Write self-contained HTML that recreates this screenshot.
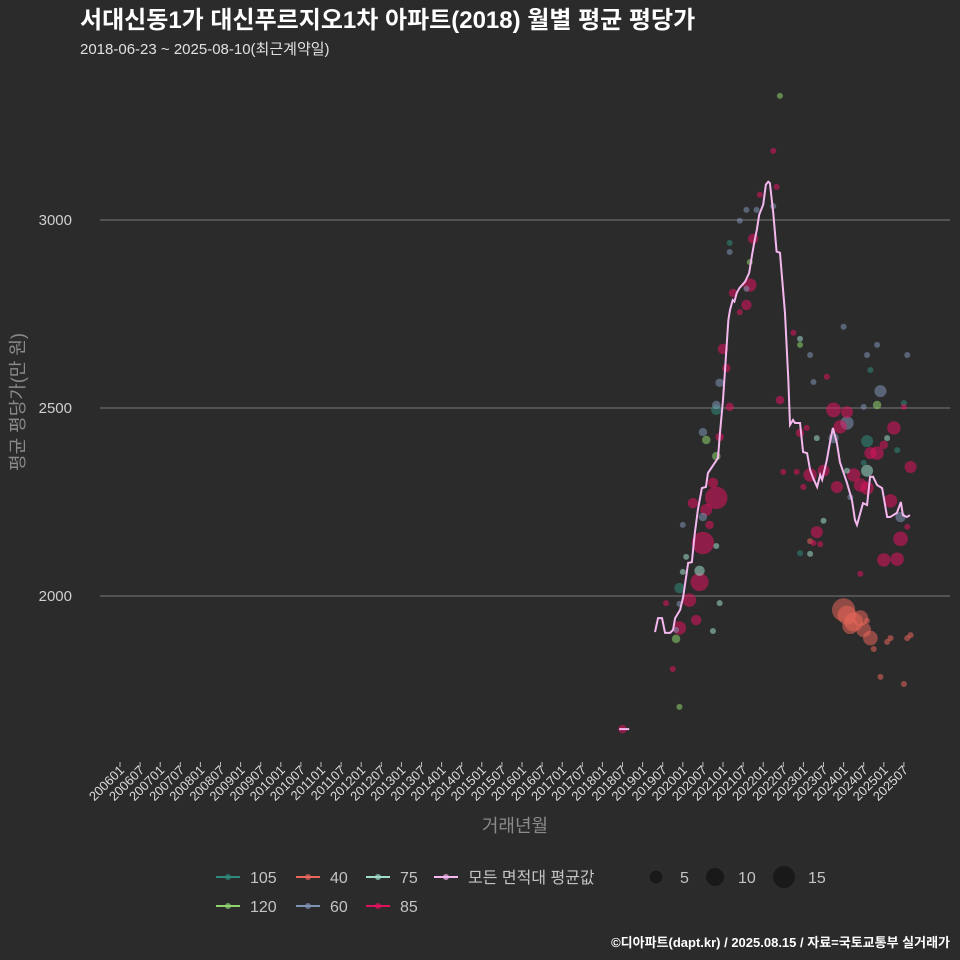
<!DOCTYPE html>
<html><head><meta charset="utf-8">
<style>
html,body{margin:0;padding:0;background:#2b2b2c;}
svg{display:block;font-family:"Liberation Sans","Noto Sans CJK KR",sans-serif;}
</style></head>
<body>
<svg id="chart" width="960" height="960" viewBox="0 0 960 960">
<rect x="0" y="0" width="960" height="960" fill="#2b2b2c"/>
<text x="80" y="28" font-size="24" font-weight="bold" fill="#ffffff">서대신동1가 대신푸르지오1차 아파트(2018) 월별 평균 평당가</text>
<text x="80" y="54" font-size="15" fill="#e0e0e0">2018-06-23 ~ 2025-08-10(최근계약일)</text>
<g id="grid"></g>
<g id="xaxis"></g>
<g id="bubbles"></g>
<g id="lines"></g>
<text transform="translate(24,402) rotate(-90)" text-anchor="middle" font-size="18" fill="#8a8a8a">평균 평당가(만 원)</text>
<text x="515" y="832" text-anchor="middle" font-size="18" fill="#8a8a8a">거래년월</text>
<g id="legend"></g>
<text x="950" y="947" text-anchor="end" font-size="13" font-weight="bold" fill="#ffffff">©디아파트(dapt.kr) / 2025.08.15 / 자료=국토교통부 실거래가</text>
</svg>
<script>
// month offsets are months since 2006-01
const yTicks = [2000, 2500, 3000];
const lineMonths = [159.7,160.6,161.8,162.7,164.2,165.1,165.7,167.2,168.1,169.6,170.7,171.6,172.5,173.7,174.9,175.5,176.7,178.5,179.1,180.0,180.6,181.6,182.1,182.9,183.4,184.1,184.9,186.6,187.8,188.6,189.3,190.1,190.8,192.0,192.8,193.5,194.0,195.0,196.0,197.0,198.5,199.5,200.0,200.9,201.5,203.0,203.9,205.1,206.0,206.9,208.1,209.0,209.6,211.0,211.9,212.8,214.0,214.9,217.0,218.5,219.4,220.0,221.8,223.0,223.9,224.8,226.0,227.5,229.0,229.9,231.9,233.1,233.7,234.9,235.8];
const lineValues = [1904,1941,1941,1902,1902,1910,1941,1963,1997,2088,2090,2168,2229,2287,2290,2327,2343,2367,2434,2521,2601,2734,2761,2787,2783,2806,2819,2836,2859,2903,2939,2974,3014,3041,3094,3102,3098,3019,2916,2913,2753,2575,2455,2468,2460,2460,2383,2380,2335,2314,2290,2322,2309,2362,2407,2447,2407,2356,2301,2255,2202,2189,2247,2242,2317,2317,2295,2287,2210,2210,2221,2250,2215,2210,2215];
const isolatedMonths = [149, 152];
const isolatedValues = [1646, 1646];
const bubbleMonths = [197,195,196,191,187,190,185,195,189,182,182,188,188,183,187,187,185,180,181,179,178,178,174,175,178,179,182,197,177,178,171,175,174,176,168,174,178,169,173,173,168,167,170,163,167,179,172,167,166,166,177,165,167,150,
201,203,203,206,216,226,223,235,224,211,207,227,213,217,222,226,234,234,217,215,203,205,208,213,231,229,223,226,224,228,232,222,223,219,217,206,210,202,198,204,214,223,221,236,230,218,233,235,210,208,206,207,209,203,206,233,228,232,221,
216,217,219,218,221,222,223,224,225,229,230,235,236,227,234];
const bubbleValues = [3330,3184,3088,3067,3027,3027,2998,3037,2950,2939,2915,2888,2827,2806,2817,2774,2755,2657,2606,2567,2508,2495,2436,2415,2372,2423,2503,2521,2301,2261,2247,2229,2210,2189,2189,2141,2133,2104,2067,2037,2064,2021,1989,1981,1979,1981,1936,1915,1910,1886,1907,1806,1705,1646,
2700,2684,2668,2641,2716,2668,2641,2641,2601,2583,2569,2545,2495,2489,2503,2508,2513,2503,2460,2450,2434,2447,2420,2420,2447,2420,2412,2380,2380,2402,2388,2354,2333,2322,2333,2322,2333,2330,2330,2290,2290,2287,2295,2343,2253,2263,2210,2184,2200,2170,2146,2141,2138,2114,2112,2152,2096,2098,2059,
1963,1949,1931,1920,1941,1910,1934,1888,1859,1878,1888,1888,1896,1785,1766];
const bubbleTypes = ["120","85","85","85","60","60","60","60","85","105","60","120","85","85","60","85","85","85","85","60","60","105","60","120","120","85","85","85","85","85","85","85","60","85","60","85","75","75","75","85","75","105","85","85","60","75","85","85","60","120","75","85","120","85",
"85","75","120","60","60","60","60","60","105","85","60","60","85","85","60","120","105","85","60","85","85","85","75","60","85","75","105","85","85","85","105","105","75","85","75","85","85","85","85","85","85","85","85","85","85","60","60","85","75","85","40","85","85","105","75","85","85","85","85",
"40","40","40","40","40","40","40","40","40","40","40","40","40","40","40"];
const bubbleCounts = [1,1,1,1,1,1,1,1,3,1,1,1,5,2,1,3,1,3,2,2,2,3,2,2,2,2,2,2,3,14,3,4,2,2,1,14,1,1,3,9,1,3,5,1,1,1,3,5,1,2,1,1,1,2,
1,1,1,1,1,1,1,1,1,1,1,4,6,4,1,2,1,1,5,5,2,1,1,3,5,1,4,5,4,2,1,1,4,5,1,5,4,1,1,1,4,5,5,4,5,1,3,1,1,4,1,1,1,1,1,6,5,5,1,
15,10,10,7,7,6,1,6,1,1,1,1,1,1,1];
const legendTypes = ["105","40","75","모든 면적대 평균값","120","60","85"];
const sizeLegend = [5,10,15];
const typeColors = {"105":"#2f8a7c","40":"#e8665a","75":"#9fdccb","120":"#8fd46e","60":"#7f93b5","85":"#e0125e"};
const xTickLabels = [];
for (let yr=2006; yr<=2025; yr++){ xTickLabels.push(yr+"01"); xTickLabels.push(yr+"07"); }

const NS="http://www.w3.org/2000/svg";
const X0=120, PXM=20.1/6, Y0=596, PXV=0.376;
function xScale(m){ return X0 + m*PXM; }
function yScale(v){ return Y0 - (v-2000)*PXV; }
function rScale(n){ return 3*Math.sqrt(n); }
function mk(tag, parent){ const e=document.createElementNS(NS,tag); parent.appendChild(e); return e; }

const grid=document.getElementById('grid');
yTicks.forEach(t=>{
  const l=mk('line',grid);
  l.setAttribute('x1',100); l.setAttribute('x2',950);
  l.setAttribute('y1',yScale(t)); l.setAttribute('y2',yScale(t));
  l.setAttribute('stroke','#6a6a6a'); l.setAttribute('stroke-width','1.2');
  
  
  const tx=mk('text',grid);
  tx.setAttribute('x',72); tx.setAttribute('y',yScale(t)+5);
  tx.setAttribute('text-anchor','end'); tx.setAttribute('font-size','15'); tx.setAttribute('fill','#cfcfcf');
  tx.textContent=t;
  
  
});

const xa=document.getElementById('xaxis');
xTickLabels.forEach((lab,i)=>{
  const x=xScale(i*6);
  const l=mk('line',xa);
  l.setAttribute('x1',x); l.setAttribute('x2',x); l.setAttribute('y1',762); l.setAttribute('y2',767);
  l.setAttribute('stroke','#bbbbbb'); l.setAttribute('stroke-width','1');
  
  
  const t=mk('text',xa);
  t.setAttribute('transform','translate('+(x+5)+',771) rotate(-45)');
  t.setAttribute('text-anchor','end'); t.setAttribute('font-size','13'); t.setAttribute('fill','#dddddd');
  t.textContent=lab;
  
  
});

const bg=document.getElementById('bubbles');
const order=bubbleCounts.map((c,i)=>i).sort((a,b)=>bubbleCounts[b]-bubbleCounts[a]);
order.forEach(i=>{
  const c=mk('circle',bg);
  c.setAttribute('cx',xScale(bubbleMonths[i])); c.setAttribute('cy',yScale(bubbleValues[i]));
  c.setAttribute('r',rScale(bubbleCounts[i]));
  c.setAttribute('fill',typeColors[bubbleTypes[i]]); c.setAttribute('fill-opacity','0.55');
  
  
});

const lg=document.getElementById('lines');
const pl=mk('polyline',lg);
pl.setAttribute('points',lineMonths.map((m,i)=>xScale(m)+','+yScale(lineValues[i])).join(' '));
pl.setAttribute('fill','none'); pl.setAttribute('stroke','#f4b8ee'); pl.setAttribute('stroke-width','2');


const iso=mk('polyline',lg);
iso.setAttribute('points',isolatedMonths.map((m,i)=>xScale(m)+','+yScale(isolatedValues[i])).join(' '));
iso.setAttribute('fill','none'); iso.setAttribute('stroke','#f4b8ee'); iso.setAttribute('stroke-width','2');



const leg=document.getElementById('legend');
const legPos=[[228,877],[308,877],[378,877],[446,877],[228,906],[308,906],[378,906]];
legendTypes.forEach((t,i)=>{
  const [x,y]=legPos[i];
  const g=mk('g',leg);
  
  
  const col=typeColors[t]||'#f4b8ee';
  const l=mk('line',g);
  l.setAttribute('x1',x-12); l.setAttribute('x2',x+12); l.setAttribute('y1',y); l.setAttribute('y2',y);
  l.setAttribute('stroke',col); l.setAttribute('stroke-width','2');
  const c=mk('circle',g);
  c.setAttribute('cx',x); c.setAttribute('cy',y); c.setAttribute('r',3);
  c.setAttribute('fill',col); c.setAttribute('fill-opacity','0.7');
  const tx=mk('text',g);
  tx.setAttribute('x',x+22); tx.setAttribute('y',y+6); tx.setAttribute('font-size','16'); tx.setAttribute('fill','#c4c4c4');
  tx.textContent=t;
});
const sizePos=[[656,680],[715,738],[784,808]];
sizeLegend.forEach((s,i)=>{
  const g=mk('g',leg);
  
  
  const c=mk('circle',g);
  c.setAttribute('cx',sizePos[i][0]); c.setAttribute('cy',877); c.setAttribute('r',rScale(s)*0.95);
  c.setAttribute('fill','#151515'); c.setAttribute('fill-opacity','0.8');
  const tx=mk('text',g);
  tx.setAttribute('x',sizePos[i][1]); tx.setAttribute('y',883); tx.setAttribute('font-size','16'); tx.setAttribute('fill','#c4c4c4');
  tx.textContent=s;
});
</script>
</body></html>
